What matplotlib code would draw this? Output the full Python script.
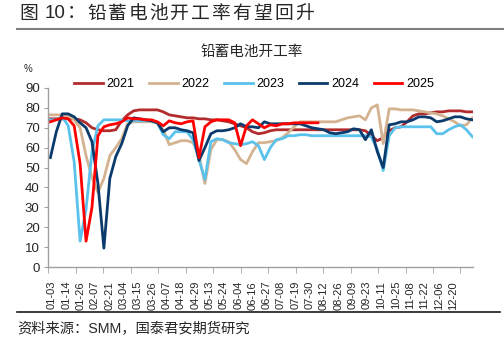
import numpy as np
import matplotlib.pyplot as plt
from matplotlib.lines import Line2D

plt.rcParams['font.family'] = ['Liberation Sans', 'Noto Sans CJK SC']

# x-axis date labels
date_labels = ['01-03', '01-14', '01-26', '02-07', '02-21', '03-04', '03-15', '03-26',
               '04-07', '04-18', '04-29', '05-13', '05-24', '06-04', '06-16', '06-27',
               '07-08', '07-19', '07-30', '08-12', '08-26', '09-09', '09-23', '10-11',
               '10-25', '11-08', '11-22', '12-06', '12-20']

# operating rate (%) sampled along the year, one value per step
y2021 = [74.5, 74.5, 74.5, 74.5, 74.5, 74, 72.5, 70, 69, 68.5, 68.5, 69, 73.5, 76.5, 78.5, 79,
         79, 79, 79, 78, 76.5, 76, 75.5, 75, 75, 74.5, 74.5, 74, 74, 73.5, 73, 72,
         71, 70, 68, 67, 67.5, 68.5, 69, 69, 69, 69, 69, 69, 69, 69, 69, 69,
         69, 69, 69, 69, 69, 68.5, 66, 63.5, 65, 68.5, 70, 70.5, 73, 76, 77, 77,
         77.5, 78, 78, 78.5, 78.5, 78.5, 78, 78]
y2022 = [76.5, 76.5, 76.5, 76, 74, 70, 56, 45, 37.5, 44.5, 56, 60, 64.5, 72, 73, 73,
         73, 73, 72.5, 69, 61.5, 62.5, 63.5, 63.5, 62.5, 56, 42, 59, 64, 64, 63, 59,
         54, 52, 58, 62.5, 62.5, 63, 63.5, 65, 67.5, 70.5, 73, 73, 73, 73, 73, 73,
         73, 74, 75, 75.5, 76, 74, 80, 81.5, 62, 79.5, 79.5, 79, 79, 79, 78.5, 78,
         77.5, 77, 76, 74.5, 73, 71, 71.5, 75]
y2023 = [74, 74, 75.5, 71, 53, 13, 29, 58, 71, 74, 74, 74, 74, 73.5, 73.5, 73.5,
         73.5, 73.5, 72.5, 66.5, 64.5, 68, 68, 68, 64, 54, 44, 63, 64.5, 64, 62.5, 62,
         61.5, 62, 63, 61, 54, 60, 64, 64.5, 66, 66, 66.5, 66.5, 66, 66, 66, 66,
         66, 66, 66, 66, 66, 66, 65.5, 59, 48.5, 66, 70, 70.5, 70.5, 70.5, 70.5, 70.5,
         70.5, 67, 67, 69, 70.5, 71.5, 69, 65.5]
y2024 = [55, 68, 77, 77, 75.5, 72.5, 70, 63, 42, 9.5, 44.5, 55.5, 62, 71, 75, 74.5,
         74, 73.5, 72.5, 68, 70, 70, 69, 68.5, 67.5, 53.5, 60, 67, 68.5, 68.5, 69, 70,
         72, 70.5, 70.5, 70, 73, 72, 72, 72, 72, 72, 72, 71, 70, 69.5, 69, 67.5,
         67, 67.5, 68, 69.5, 69, 64, 69, 58, 50, 71.5, 72, 73, 73, 74, 75.5, 75.5,
         75, 73, 73.5, 74.5, 75.5, 75.5, 74.5, 74]
y2025 = [73, 74, 75, 74.5, 71, 52, 13, 30, 66, 70.5, 71.5, 72, 73, 75, 74.5, 74.5,
         74, 74, 73, 71, 73.5, 72.5, 72, 73, 73.5, 55, 70.5, 73, 74, 74, 74, 72.5,
         61, 71, 74, 72, 70, 71.5, 71, 72, 72, 72.5, 72.5, 72.5, 72.5, 72.5]

series = [('2021', y2021, '#B22C2E'), ('2022', y2022, '#D4B391'), ('2023', y2023, '#5BC2EC'),
          ('2024', y2024, '#0B3B6D'), ('2025', y2025, '#FF0000')]

fig = plt.figure(figsize=(5.04, 3.53), dpi=100)
ax = fig.add_axes([48 / 504, 86 / 353, 425 / 504, 179 / 353])

for name, vals, col in series:
    ax.plot(np.arange(len(vals)), vals, color=col, lw=2.0, label=name, solid_joinstyle='round')

xmin, xmax = -0.4, 71.1
span = xmax - xmin
ax.set_xlim(xmin, xmax)
ax.set_ylim(0, 90)
ax.set_yticks(range(0, 91, 10))

# label positions and tick marks along the category axis
lab_pos = [xmin + (4 + 14.32 * j) / 425 * span for j in range(len(date_labels))]
mark_pos = [xmin + 27.5 * j / 425 * span for j in range(16)]
ax.set_xticks(lab_pos)
ax.set_xticklabels(date_labels, rotation=90, fontsize=8, color='#262626')
ax.set_xticks(mark_pos, minor=True)
ax.tick_params(axis='x', which='major', length=0, pad=10)
ax.tick_params(axis='x', which='minor', length=4, color='#A0A0A0', direction='out')
ax.tick_params(axis='y', length=3, color='#A0A0A0', labelsize=9.5, labelcolor='#262626', pad=3)

for s in ['top', 'right']:
    ax.spines[s].set_visible(False)
for s in ['left', 'bottom']:
    ax.spines[s].set_color('#A0A0A0')
    ax.spines[s].set_linewidth(1.0)

fig.legend(loc='center', bbox_to_anchor=(254 / 504, 1 - 84 / 353), ncol=5, frameon=False,
           fontsize=9, handlelength=2.3, handletextpad=0.3, columnspacing=1.15)

# title, spaced out like the original
title_y = 1 - 14 / 353
fig.text(28.5 / 504, title_y, '图', fontsize=13.5, color='#262626', va='center', ha='center')
fig.text(55.5 / 504, title_y, '10', fontsize=13.5, color='#262626', va='center', ha='center')
fig.text(76 / 504, title_y, '：', fontsize=13.5, color='#262626', va='center', ha='center')
for i, ch in enumerate('铅蓄电池开工率有望回升'):
    fig.text((96.5 + 20.8 * i) / 504, title_y, ch, fontsize=13.5, color='#262626',
             va='center', ha='center')
fig.add_artist(Line2D([17 / 504, 1.0], [1 - 29 / 353] * 2, color='#808080', lw=1.5))

fig.text(252 / 504, 1 - 52 / 353, '铅蓄电池开工率', fontsize=10.5, color='#262626',
         va='center', ha='center')
fig.text(28 / 504, 1 - 69 / 353, '%', fontsize=7, color='#262626', va='center', ha='center')
fig.add_artist(Line2D([17 / 504, 500 / 504], [1 - 312 / 353] * 2, color='#1a1a1a', lw=1.2))
fig.text(17 / 504, 1 - 329 / 353, '资料来源：SMM，国泰君安期货研究', fontsize=10.3, color='#262626',
         va='center', ha='left')

fig.savefig('out.png', dpi=100)
